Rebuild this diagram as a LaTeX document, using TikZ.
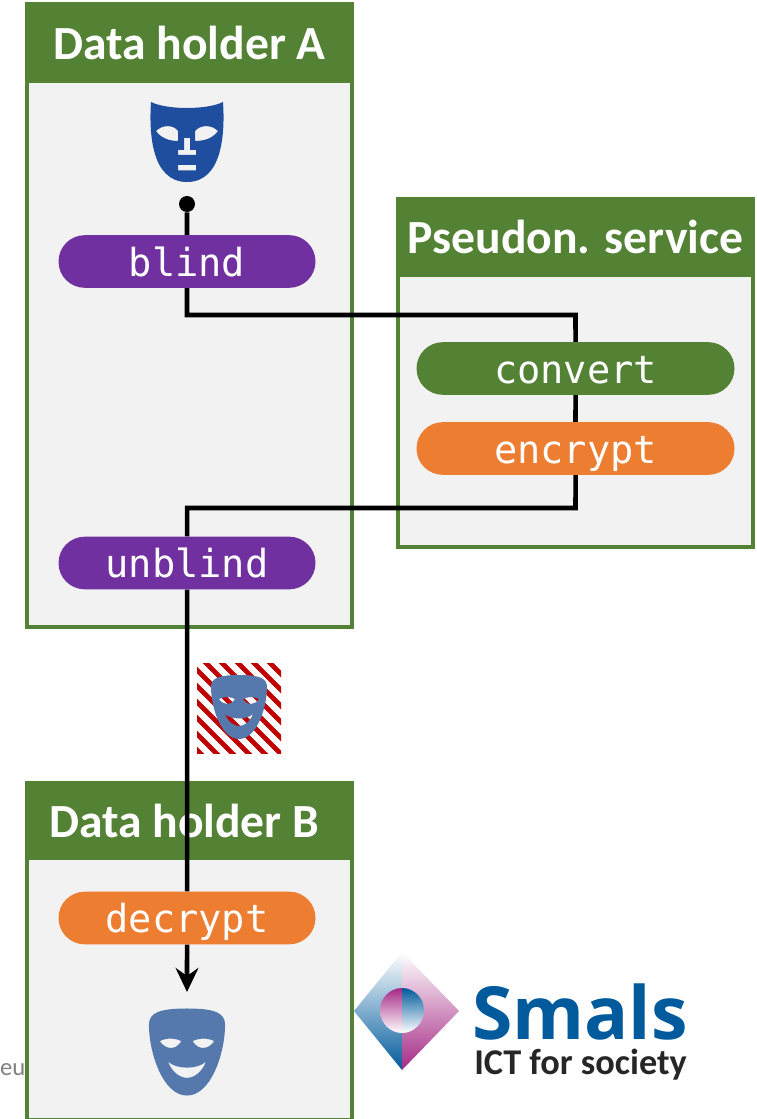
\documentclass[tikz,border=0pt]{standalone}
\usepackage{fontspec}
\setmainfont{Carlito}
\setmonofont{DejaVu Sans Mono}
\newfontfamily\logofont{Open Sans}
\usepackage{xcolor}
\usetikzlibrary{shapes.misc,arrows.meta,positioning,calc}
\definecolor{boxgreen}{HTML}{548235}
\definecolor{boxgrey}{HTML}{F2F2F2}
\definecolor{pillpurple}{HTML}{7030A0}
\definecolor{pillorange}{HTML}{ED7D31}
\definecolor{maskdark}{HTML}{1F4E9E}
\definecolor{masklight}{HTML}{5579AC}
\definecolor{hatchred}{HTML}{C00000}
\definecolor{logoblue}{HTML}{005A9C}
\definecolor{logomid}{HTML}{5F86BC}
\definecolor{logomagenta}{HTML}{A52A85}
\tikzset{
	holderbox/.style={draw=boxgreen, line width=3pt, fill=boxgrey, rectangle, inner sep=0pt},
	holderhead/.style={fill=boxgreen, rectangle, inner sep=0pt, text=white, font=\fontsize{35.7}{36}\selectfont\bfseries},
	pill/.style={rounded rectangle, inner sep=0pt, minimum height=39.5pt, text height=24pt, text depth=2pt, text=white, font=\ttfamily\fontsize{29}{29}\selectfont},
	wire/.style={line width=3.4pt, black},
	sadmask/.pic={
		\fill[even odd rule, maskdark] (-36,-40) .. controls (-20,-32) and (20,-32) .. (36,-40)
			.. controls (38,-10) and (36,40) .. (0,40) .. controls (-36,40) and (-38,-10) .. (-36,-40) -- cycle
			(-31,-11) .. controls (-24,-18) and (-13,-17) .. (-9,-11) -- (-9,-1) .. controls (-18,-1) and (-26,-4) .. (-31,-11) -- cycle
			(31,-11) .. controls (24,-18) and (13,-17) .. (8,-11) -- (8,-1) .. controls (18,-1) and (26,-4) .. (31,-11) -- cycle
			(-3,-4) -- (3,-4) -- (3,8) -- (9,8) -- (9,13) -- (-9,13) -- (-9,8) -- (-3,8) -- cycle
			(-9,23) -- (9,23) -- (9,28.5) -- (-9,28.5) -- cycle;
	},
	smilemask/.pic={
		\fill[even odd rule, masklight] (-28,-20) .. controls (-28,-29) and (-20,-32) .. (0,-32) .. controls (20,-32) and (28,-29) .. (28,-20)
			.. controls (28,0) and (18,32) .. (0,32) .. controls (-18,32) and (-28,0) .. (-28,-20) -- cycle
			(-20,-8) .. controls (-14,-11) and (-8,-10) .. (-4,-8) .. controls (-7,-4) and (-9,-3) .. (-12,-3) .. controls (-15,-3) and (-18,-5) .. (-20,-8) -- cycle
			(20,-8) .. controls (14,-11) and (8,-10) .. (4,-8) .. controls (7,-4) and (9,-3) .. (12,-3) .. controls (15,-3) and (18,-5) .. (20,-8) -- cycle
			(-14,7) .. controls (-8,13) and (8,13) .. (14,7) .. controls (11,15) and (5,19) .. (0,19) .. controls (-5,19) and (-11,15) .. (-14,7) -- cycle;
	}
}
\begin{document}
\begin{tikzpicture}[x=0.75pt,y=-0.75pt]
	\useasboundingbox (0,0) rectangle (756,1119);

	% Cut-off footer text
	\node[left, inner sep=0pt, text=gray, font=\fontsize{18.5}{18.5}\selectfont] (footer) at (25.5,1069.5) {eu};

	% Data holder A
	\node[holderbox, minimum width=243.75pt, minimum height=466.5pt] (holderA) at (189.5,315.5) {};
	\node[holderhead, minimum width=246.75pt, minimum height=60pt] (headA) at (189.5,43) {Data holder A};

	% Pseudonymisation service
	\node[holderbox, minimum width=266.25pt, minimum height=261pt] (service) at (575.5,373) {};
	\node[holderhead, minimum width=269.25pt, minimum height=60pt] (headS) at (575.5,237) {Pseudon. service};

	% Data holder B
	\node[holderbox, minimum width=243.75pt, minimum height=252.75pt] (holderB) at (189.5,951.5) {};
	\node[holderhead, minimum width=246.75pt, minimum height=59.25pt] (headB) at (189.5,820.5) {\hbox{Data holder B\kern8pt}};

	% Steps
	\node[pill, fill=pillpurple, minimum width=192.75pt] (blind) at (187,261.5) {blind};
	\node[pill, fill=boxgreen, minimum width=238.5pt] (convert) at (575.5,368.5) {convert};
	\node[pill, fill=pillorange, minimum width=238.5pt] (encrypt) at (575.5,448.5) {encrypt};
	\node[pill, fill=pillpurple, minimum width=192.75pt] (unblind) at (187,563) {unblind};
	\node[pill, fill=pillorange, minimum width=192.75pt] (decrypt) at (187,918) {decrypt};

	% Connections
	\node[circle, fill=black, minimum size=12pt, inner sep=0pt] (start) at (187,204) {};
	\coordinate (turnA) at (575.5,315);
	\coordinate (turnB) at (575.5,508);
	\coordinate (finish) at (187,992);
	\draw[wire] (start) -- (blind);
	\draw[wire] (blind) |- (turnA) -- (convert);
	\draw[wire] (convert) -- (encrypt);
	\draw[wire] (encrypt) -- (turnB) -| (unblind);
	\draw[wire] (unblind) -- (decrypt);
	\draw[wire, -{Stealth[length=18pt,width=17pt,inset=6pt]}] (decrypt) -- (finish);

	% Masks
	\pic at (187,142) {sadmask};
	\pic[scale=1.36] at (187,1052) {smilemask};

	% Hatched mask
	\begin{scope}
		\clip (197,663) rectangle (281,753);
		\foreach \i in {0,...,12}
			\draw[hatchred, line width=3.6pt] (210+16*\i-116,663-16) -- ++(116,116);
	\end{scope}
	\pic at (239,707) {smilemask};

	% Logo
	\shade[top color=white, middle color=logomid, bottom color=logoblue] (402,952) -- (354,1011) -- (402,1070) -- cycle;
	\shade[top color=white, middle color=logomagenta!55!white, bottom color=logomagenta] (402,952) -- (459,1011) -- (402,1070) -- cycle;
	\shade[top color=logomagenta, bottom color=white] (402,988) .. controls (390,988) and (380,998) .. (380,1010) .. controls (380,1023) and (390,1033) .. (402,1033) -- cycle;
	\shade[top color=logoblue, bottom color=white] (402,988) .. controls (414,988) and (424,998) .. (424,1010) .. controls (424,1023) and (414,1033) .. (402,1033) -- cycle;
	\node[right, inner sep=0pt, text=logoblue, font=\logofont\fontsize{55}{55}\selectfont\bfseries] (smals) at (472,1012) {Smals};
	\node[right, inner sep=0pt, text=black!85, font=\fontsize{27.2}{27.2}\selectfont\bfseries] (society) at (474,1065) {ICT for society};
\end{tikzpicture}
\end{document}
